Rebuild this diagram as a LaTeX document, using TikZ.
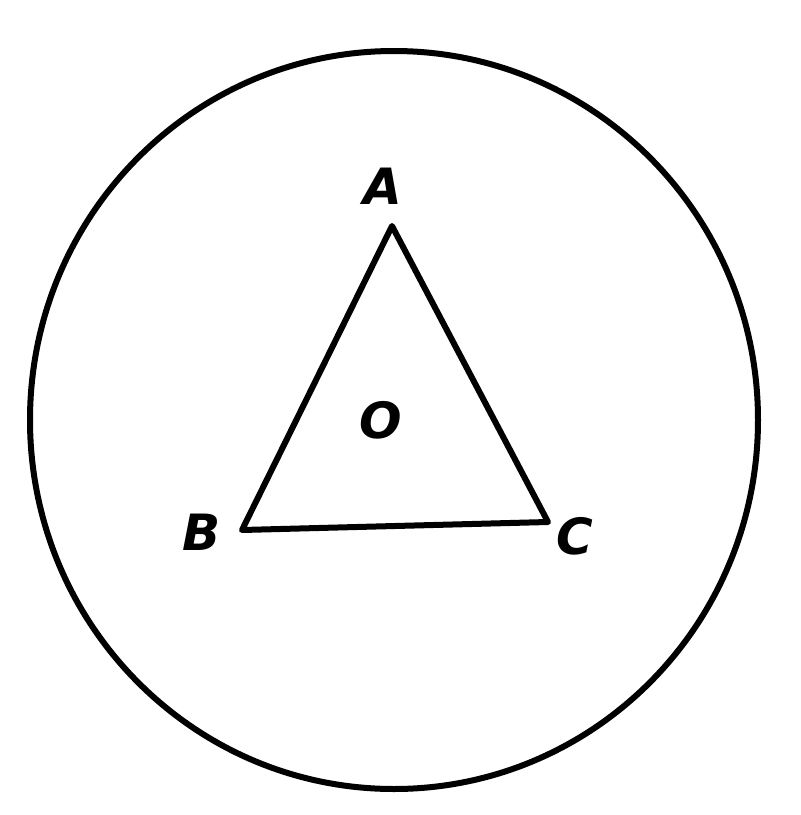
\documentclass[tikz,border=0pt]{standalone}
\usepackage{fontspec}
\newfontfamily\lblfont{DejaVu Sans}
\begin{document}
\begin{tikzpicture}[x=0.5pt,y=-0.5pt,
  lbl/.style={font=\lblfont\bfseries\itshape\fontsize{25}{29}\selectfont, inner sep=0pt},
  outline/.style={line width=3pt, line join=round}]
\useasboundingbox (0,0) rectangle (800,815);
\fill[white] (0,0) rectangle (800,815);
\coordinate (ctr) at (394,420);
\draw[outline] (ctr) ellipse [x radius=364, y radius=369];
\coordinate (A) at (392,226);
\coordinate (B) at (242,530);
\coordinate (C) at (548,522);
\draw[outline] (A) -- (B) -- (C) -- cycle;
\node[lbl] (la) at (383,186) {A};
\node[lbl] (lb) at (202,532) {B};
\node[lbl] (lc) at (575,536) {C};
\node[lbl] (lo) at (381,420) {O};
\end{tikzpicture}
\end{document}
